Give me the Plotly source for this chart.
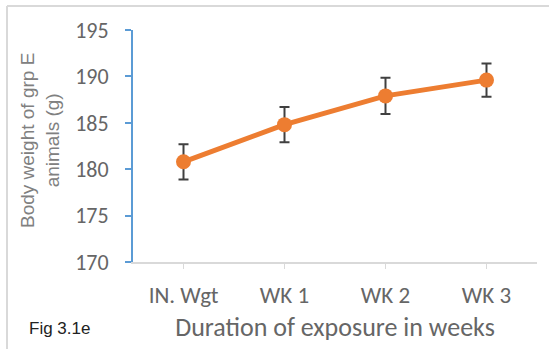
import plotly.graph_objects as go

categories = ["IN. Wgt", "WK 1", "WK 2", "WK 3"]
weights = [180.8, 184.8, 187.9, 189.6]
errors = [1.9, 1.9, 1.95, 1.8]
y_ticks = [170, 175, 180, 185, 190, 195]

W, H = 549, 349
L, R, T, B = 133, 537, 30, 262

def px(x):
    return (x - L) / (R - L)

def py(y):
    return (B - y) / (B - T)

fig = go.Figure()
fig.add_trace(go.Scatter(
    x=categories, y=weights,
    mode="lines+markers",
    line=dict(color="#ED7D31", width=5),
    marker=dict(color="#ED7D31", size=15),
    error_y=dict(type="data", array=errors, visible=True,
                 color="#404040", thickness=2, width=5),
    showlegend=False,
))

cal = "Calibri, Carlito, Lato, sans-serif"
fig.update_layout(
    width=W, height=H,
    margin=dict(l=L, r=W - R, t=T, b=H - B),
    paper_bgcolor="white", plot_bgcolor="white",
    xaxis=dict(
        type="category", range=[-0.5, 3.5],
        showline=True, linecolor="#D9D9D9", linewidth=2,
        ticks="outside", tickcolor="#D9D9D9", ticklen=5, tickwidth=1,
        showgrid=False, zeroline=False,
        ticklabelstandoff=6,
        tickfont=dict(family=cal, size=23, color="#666666"),
        title=dict(text="Duration of exposure in weeks",
                   font=dict(family=cal, size=26, color="#666666"),
                   standoff=10),
    ),
    yaxis=dict(
        range=[170, 195], tickvals=y_ticks,
        showline=True, linecolor="#5B9BD5", linewidth=2,
        ticks="outside", tickcolor="#5B9BD5", ticklen=6, tickwidth=2,
        showgrid=False, zeroline=False,
        ticklabelstandoff=12,
        tickfont=dict(family=cal, size=22, color="#666666"),
    ),
    annotations=[
        dict(text="Body weight of grp E<br>animals (g)", x=px(40), y=py(141),
             xref="paper", yref="paper", showarrow=False, textangle=-90,
             font=dict(family="Liberation Sans, Arial", size=19, color="#808080"),
             xanchor="center", yanchor="middle"),
        dict(text="Fig 3.1e", x=px(27), y=py(328), xref="paper", yref="paper",
             showarrow=False, xanchor="left", yanchor="middle",
             font=dict(family="Liberation Sans, Arial", size=17, color="#222222")),
    ],
    shapes=[
        dict(type="line", xref="paper", yref="paper",
             x0=px(7), x1=px(549), y0=py(6), y1=py(6),
             line=dict(color="#D9D9D9", width=2)),
        dict(type="line", xref="paper", yref="paper",
             x0=px(7), x1=px(7), y0=py(6), y1=py(349),
             line=dict(color="#D9D9D9", width=2)),
    ],
)

fig.write_html("out.html")
